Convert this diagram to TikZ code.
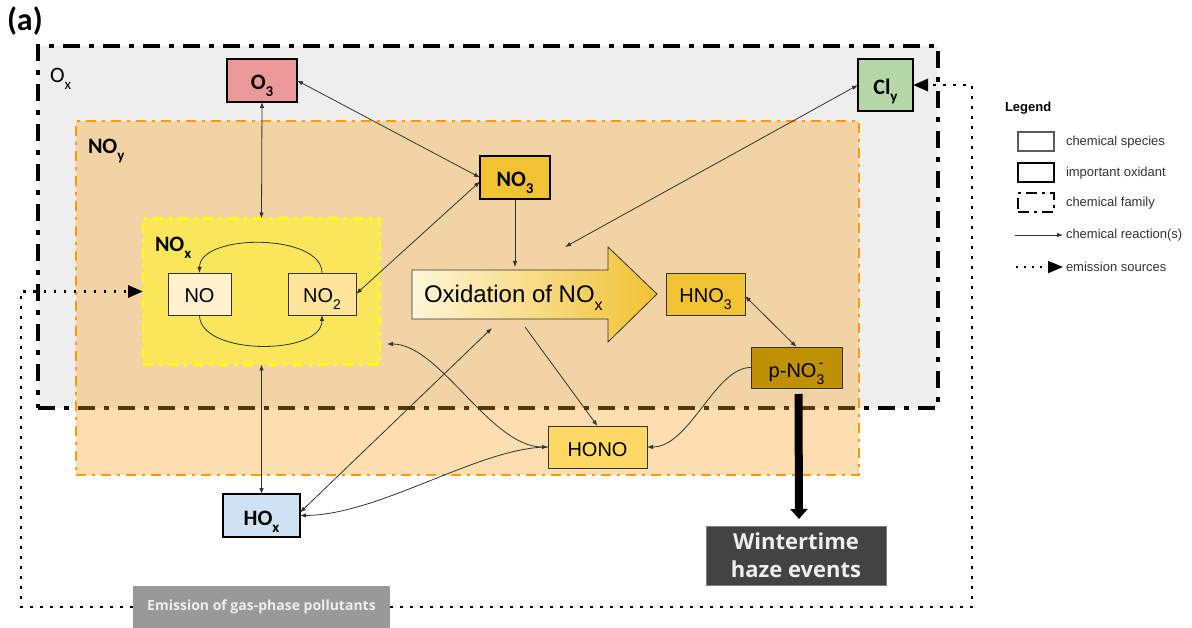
\documentclass[tikz,border=0pt]{standalone}
\usepackage{fontspec}
\setmainfont{Liberation Sans}
\newfontfamily\calib{Carlito}
\newfontfamily\arialf{Liberation Sans}
\newfontfamily\osans{Open Sans}
\usetikzlibrary{arrows.meta}
\newcommand{\sbt}[3]{\smash{\raisebox{-#2pt}{\fontsize{#1}{#1}\selectfont #3}}}
\definecolor{linec}{HTML}{333333}
\definecolor{oxgray}{HTML}{EEEEEE}
\definecolor{noyfill}{HTML}{F9A11A}
\definecolor{noyline}{HTML}{FF9900}
\definecolor{noxfill}{HTML}{F9E65A}
\definecolor{noxline}{HTML}{FFFF00}
\definecolor{cNO}{HTML}{FFF2CC}
\definecolor{cNOtwo}{HTML}{FFE599}
\definecolor{cOthree}{HTML}{EA9999}
\definecolor{cNOthree}{HTML}{F1C232}
\definecolor{cCly}{HTML}{B6D7A8}
\definecolor{cHNO}{HTML}{F1C232}
\definecolor{cPNO}{HTML}{BF9000}
\definecolor{cHONO}{HTML}{FFD966}
\definecolor{cHOx}{HTML}{CFE2F3}
\definecolor{cWinter}{HTML}{434343}
\definecolor{cEmis}{HTML}{999999}
\definecolor{lighttxt}{HTML}{EEEEEE}
\definecolor{arrL}{HTML}{FFF5D8}
\definecolor{arrR}{HTML}{F1C232}
\begin{document}
\begin{tikzpicture}[x=1pt,y=-1pt,
  >={Latex[length=6pt,width=4.5pt]},
  every node/.style={inner sep=0pt, outer sep=0pt},
  oxfam/.style={draw=black, fill=oxgray, line width=4.5pt, dash pattern=on 17pt off 9pt on 5pt off 9pt},
  noyfam/.style={draw=noyline, fill=noyfill, fill opacity=0.35, draw opacity=1, line width=2.5pt, dash pattern=on 10pt off 6pt on 3pt off 6pt},
  noxfam/.style={draw=noxline, fill=noxfill, line width=2.5pt, dash pattern=on 10pt off 6pt on 3pt off 6pt},
  species/.style={draw=linec, line width=0.9pt, text height=18pt, text depth=0pt, font=\arialf\fontsize{20}{24}\selectfont},
  oxidant/.style={draw=black, line width=2.4pt, text height=19pt, text depth=0pt, font=\calib\bfseries\fontsize{22}{26}\selectfont},
  famlabel/.style={anchor=base west, font=\calib\bfseries\fontsize{22}{26}\selectfont},
  rxn/.style={draw=linec, line width=0.8pt},
  emis/.style={draw=black, line width=2.8pt, dash pattern=on 2.8pt off 7.2pt, -{Triangle[length=15pt,width=12pt]}},
  haze/.style={draw=black, line width=8pt, -{Triangle[length=10pt,width=17pt]}},
  legtxt/.style={anchor=west, text=linec, font=\arialf\fontsize{13}{15}\selectfont},
]
\useasboundingbox (0,0) rectangle (1192,628);

% families
\node[oxfam, minimum width=900pt, minimum height=362pt] (ox) at (488,227) {};
\node[noyfam, minimum width=783pt, minimum height=354pt] (noy) at (467.5,298) {};
\node[noxfam, minimum width=237pt, minimum height=146pt] (nox) at (261.5,291.5) {};

% labels
\node[anchor=base west, font=\calib\bfseries\fontsize{32}{36}\selectfont] (lbla) at (7,31) {(a)};
\node[anchor=base west, font=\calib\fontsize{22}{26}\selectfont] (lblox) at (50,83) {O\sbt{15}{7}{x}};
\node[famlabel] (lblnoy) at (88,154) {NO\sbt{15}{7}{y}};
\node[famlabel] (lblnox) at (155,252) {NO\sbt{15}{7}{x}};

% big oxidation arrow
\shade[left color=arrL, right color=arrR, draw=linec, line width=0.8pt]
  (412,270) -- (608,270) -- (608,247) -- (657,294) -- (608,342) -- (608,319) -- (412,319) -- cycle;
\node[anchor=base west, font=\arialf\fontsize{24}{28}\selectfont] (oxtext) at (424,303) {Oxidation of NO\sbt{16}{8}{x}};
\coordinate (oxin) at (515,267);
\coordinate (oxcl) at (565,247);
\coordinate (oxho) at (492,328);
\coordinate (oxhono) at (525,327);
\coordinate (noxr) at (387,344);

% species
\node[oxidant, fill=cOthree, minimum width=70pt, minimum height=43pt] (o3) at (262,80.5) {O\sbt{15}{7}{3}};
\node[oxidant, fill=cNOthree, minimum width=70pt, minimum height=43pt] (no3) at (515,177.5) {NO\sbt{15}{7}{3}};
\node[oxidant, fill=cCly, minimum width=55pt, minimum height=52pt] (cly) at (885.5,85) {Cl\sbt{15}{7}{y}};
\node[oxidant, fill=cHOx, minimum width=77pt, minimum height=43pt] (hox) at (261.5,515.5) {HO\sbt{15}{7}{x}};
\node[species, fill=cNO, minimum width=63pt, minimum height=42pt] (no) at (199.5,294) {NO};
\node[species, fill=cNOtwo, minimum width=68pt, minimum height=42pt] (no2) at (322,294) {NO\sbt{14}{7}{2}};
\node[species, fill=cHNO, minimum width=79pt, minimum height=42pt] (hno3) at (705.5,294) {HNO\sbt{14}{7}{3}};
\node[species, fill=cPNO, minimum width=91pt, minimum height=41pt, text height=20pt] (pno3) at (796.5,367.5) {p-NO\rlap{\smash{\raisebox{10pt}{\fontsize{14}{14}\selectfont\,-}}}\sbt{14}{7}{3}};
\node[species, fill=cHONO, minimum width=99pt, minimum height=42pt] (hono) at (597.5,447) {HONO};
\node[fill=cWinter, draw=gray, line width=0.6pt, minimum width=180pt, minimum height=59pt, align=center, text=lighttxt, font=\osans\bfseries\fontsize{22}{28}\selectfont] (winter) at (796,555.5) {Wintertime\\haze events};
\coordinate (eL) at (21,607);
\coordinate (eR) at (972,607);
\coordinate (emL) at (133,607);
\coordinate (emR) at (390,607);

% emission connectors
\draw[emis] (emL) -- (eL) |- (nox.west);
\draw[emis] (emR) -- (eR) |- (cly.east);
\node[fill=cEmis, minimum width=257pt, minimum height=42pt, text=lighttxt, font=\osans\bfseries\fontsize{14}{17}\selectfont] (emis) at (261.5,607) {Emission of gas-phase pollutants};

% reactions
\draw[rxn,<->] (o3.south) -- (nox.north);
\draw[rxn,<->] (nox.south) -- (hox.north);
\draw[rxn,<->] (o3.east) -- (no3.west);
\draw[rxn,<->] ([yshift=-4pt]no3.west) -- (no2.east);
\draw[rxn,->] (no3.south) -- (oxin);
\draw[rxn,<->] (cly.west) -- (oxcl);
\draw[rxn,->] (no2.north) .. controls +(0,-40) and +(0,-40) .. (no.north);
\draw[rxn,->] (no.south) .. controls +(0,41) and +(0,41) .. (no2.south);
\draw[rxn,<->] ([yshift=3pt]hox.east) -- (oxho);
\draw[rxn,->] (oxhono) -- (hono.north);
\draw[rxn,<->] (noxr) .. controls (440,344) and (490,447) .. (hono.west);
\draw[rxn,->] (hono.west) .. controls (480,447) and (380,515) .. (hox.east);
\draw[rxn,<->] ([yshift=-2pt]hno3.east) -- (pno3.north);
\draw[rxn,->] (pno3.west) .. controls (715,367) and (690,447) .. (hono.east);
\draw[haze] ([yshift=-6pt,xshift=2pt]pno3.south) -- ([yshift=7pt,xshift=3pt]winter.north);

% legend
\node[anchor=west, text=black, font=\arialf\bfseries\fontsize{13}{15}\selectfont] (legtitle) at (1005,108) {Legend};
\node[draw=linec!80, line width=1.2pt, minimum width=36pt, minimum height=19pt] (lg1) at (1036,141.5) {};
\node[legtxt] (lt1) at (1066,142) {chemical species};
\node[draw=black, line width=2.4pt, minimum width=36pt, minimum height=19pt] (lg2) at (1036,172.5) {};
\node[legtxt] (lt2) at (1066,173) {important oxidant};
\node[draw=black, line width=2.4pt, dash pattern=on 11pt off 5pt on 3pt off 5pt, minimum width=36pt, minimum height=19pt] (lg3) at (1036,202.5) {};
\node[legtxt] (lt3) at (1066,203) {chemical family};
\coordinate (la1) at (1015,235);
\coordinate (la2) at (1063,235);
\draw[rxn,->] (la1) -- (la2);
\node[legtxt] (lt4) at (1066,235) {chemical reaction(s)};
\coordinate (le1) at (1016,267);
\coordinate (le2) at (1063,267);
\draw[emis, line width=2pt, dash pattern=on 2pt off 6pt] (le1) -- (le2);
\node[legtxt] (lt5) at (1066,267) {emission sources};
\end{tikzpicture}
\end{document}
